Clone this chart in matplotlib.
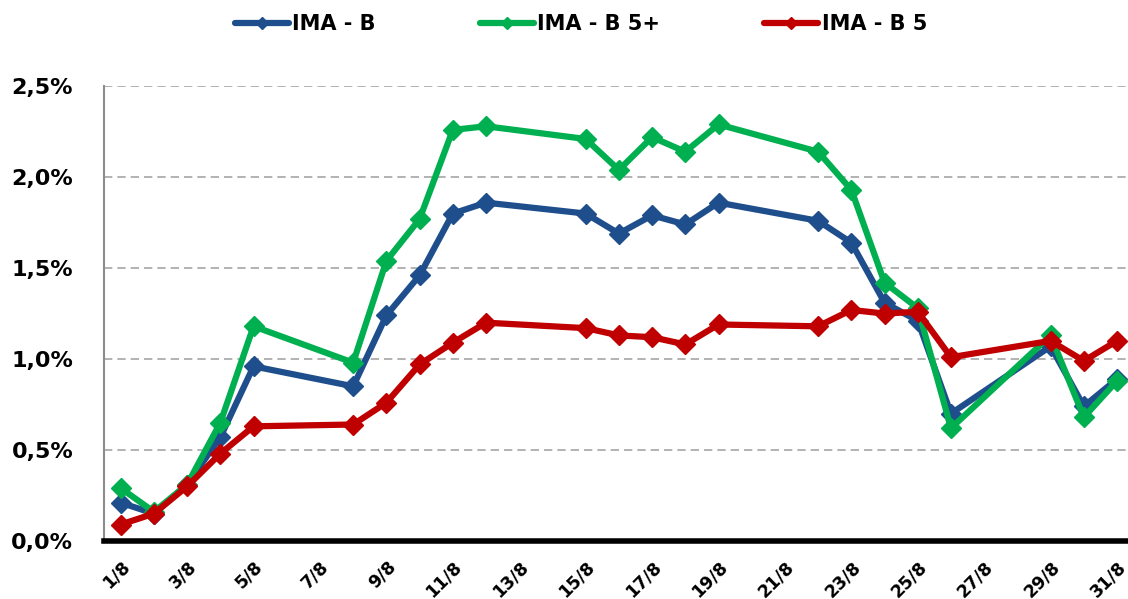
import matplotlib
matplotlib.use("Agg")
import matplotlib.pyplot as plt
from matplotlib.ticker import FuncFormatter, MultipleLocator

days = [1, 2, 3, 4, 5, 8, 9, 10, 11, 12, 15, 16, 17, 18, 19, 22, 23, 24, 25, 26, 29, 30, 31]
ima_b = [0.21, 0.15, 0.31, 0.57, 0.96, 0.85, 1.24, 1.46, 1.80, 1.86, 1.80, 1.69, 1.79, 1.74, 1.86,
         1.76, 1.64, 1.31, 1.21, 0.70, 1.07, 0.74, 0.89]
ima_b5p = [0.29, 0.16, 0.31, 0.65, 1.18, 0.98, 1.54, 1.77, 2.26, 2.28, 2.21, 2.04, 2.22, 2.14, 2.29,
           2.14, 1.93, 1.42, 1.28, 0.62, 1.13, 0.68, 0.88]
ima_b5 = [0.09, 0.15, 0.30, 0.48, 0.63, 0.64, 0.76, 0.97, 1.09, 1.20, 1.17, 1.13, 1.12, 1.08, 1.19,
          1.18, 1.27, 1.25, 1.26, 1.01, 1.10, 0.99, 1.10]
series_names = ["IMA - B", "IMA - B 5+", "IMA - B 5"]
colors = ["#1F4E8C", "#00B050", "#C00000"]
tick_days = list(range(1, 32, 2))
tick_labels = [f"{d}/8" for d in tick_days]

plt.rcParams['font.family'] = ['DejaVu Sans']

fig = plt.figure(figsize=(11.28, 5.99), dpi=100)
ax = fig.add_axes([0.092, 0.097, 0.908, 0.759])

for vals, name, c in zip([ima_b, ima_b5p, ima_b5], series_names, colors):
    ax.plot(days, vals, color=c, lw=4.5, marker='D', markersize=10, label=name,
            solid_joinstyle='round', solid_capstyle='round')

ax.set_xlim(0.49, 31.33)
ax.set_ylim(0, 2.5)
ax.yaxis.set_major_locator(MultipleLocator(0.5))
ax.yaxis.set_major_formatter(FuncFormatter(lambda v, p: f"{v:.1f}%".replace('.', ',')))
ax.set_xticks(tick_days)
ax.set_xticklabels(tick_labels, rotation=45, ha='right', rotation_mode='anchor',
                   fontsize=12.5, fontweight='bold')
for lab in ax.get_yticklabels():
    lab.set_fontsize(16)
    lab.set_fontweight('bold')
ax.tick_params(axis='both', length=0)
ax.tick_params(axis='x', pad=12)
ax.tick_params(axis='y', pad=22)

ax.grid(axis='y', color='#A6A6A6', linestyle=(0, (5, 3)), linewidth=1.2)
ax.set_axisbelow(True)
for s in ['top', 'right']:
    ax.spines[s].set_visible(False)
ax.spines['left'].set_color('#8C8C8C')
ax.spines['left'].set_linewidth(1.5)
ax.spines['bottom'].set_color('black')
ax.spines['bottom'].set_linewidth(4)

leg = fig.legend(loc='center', bbox_to_anchor=(0.515, 0.96), ncol=3, frameon=False,
                 prop={'weight': 'bold', 'size': 15}, handlelength=2.6, columnspacing=5.0,
                 handletextpad=0.15, markerscale=0.65)

fig.savefig("out.png", dpi=100)
